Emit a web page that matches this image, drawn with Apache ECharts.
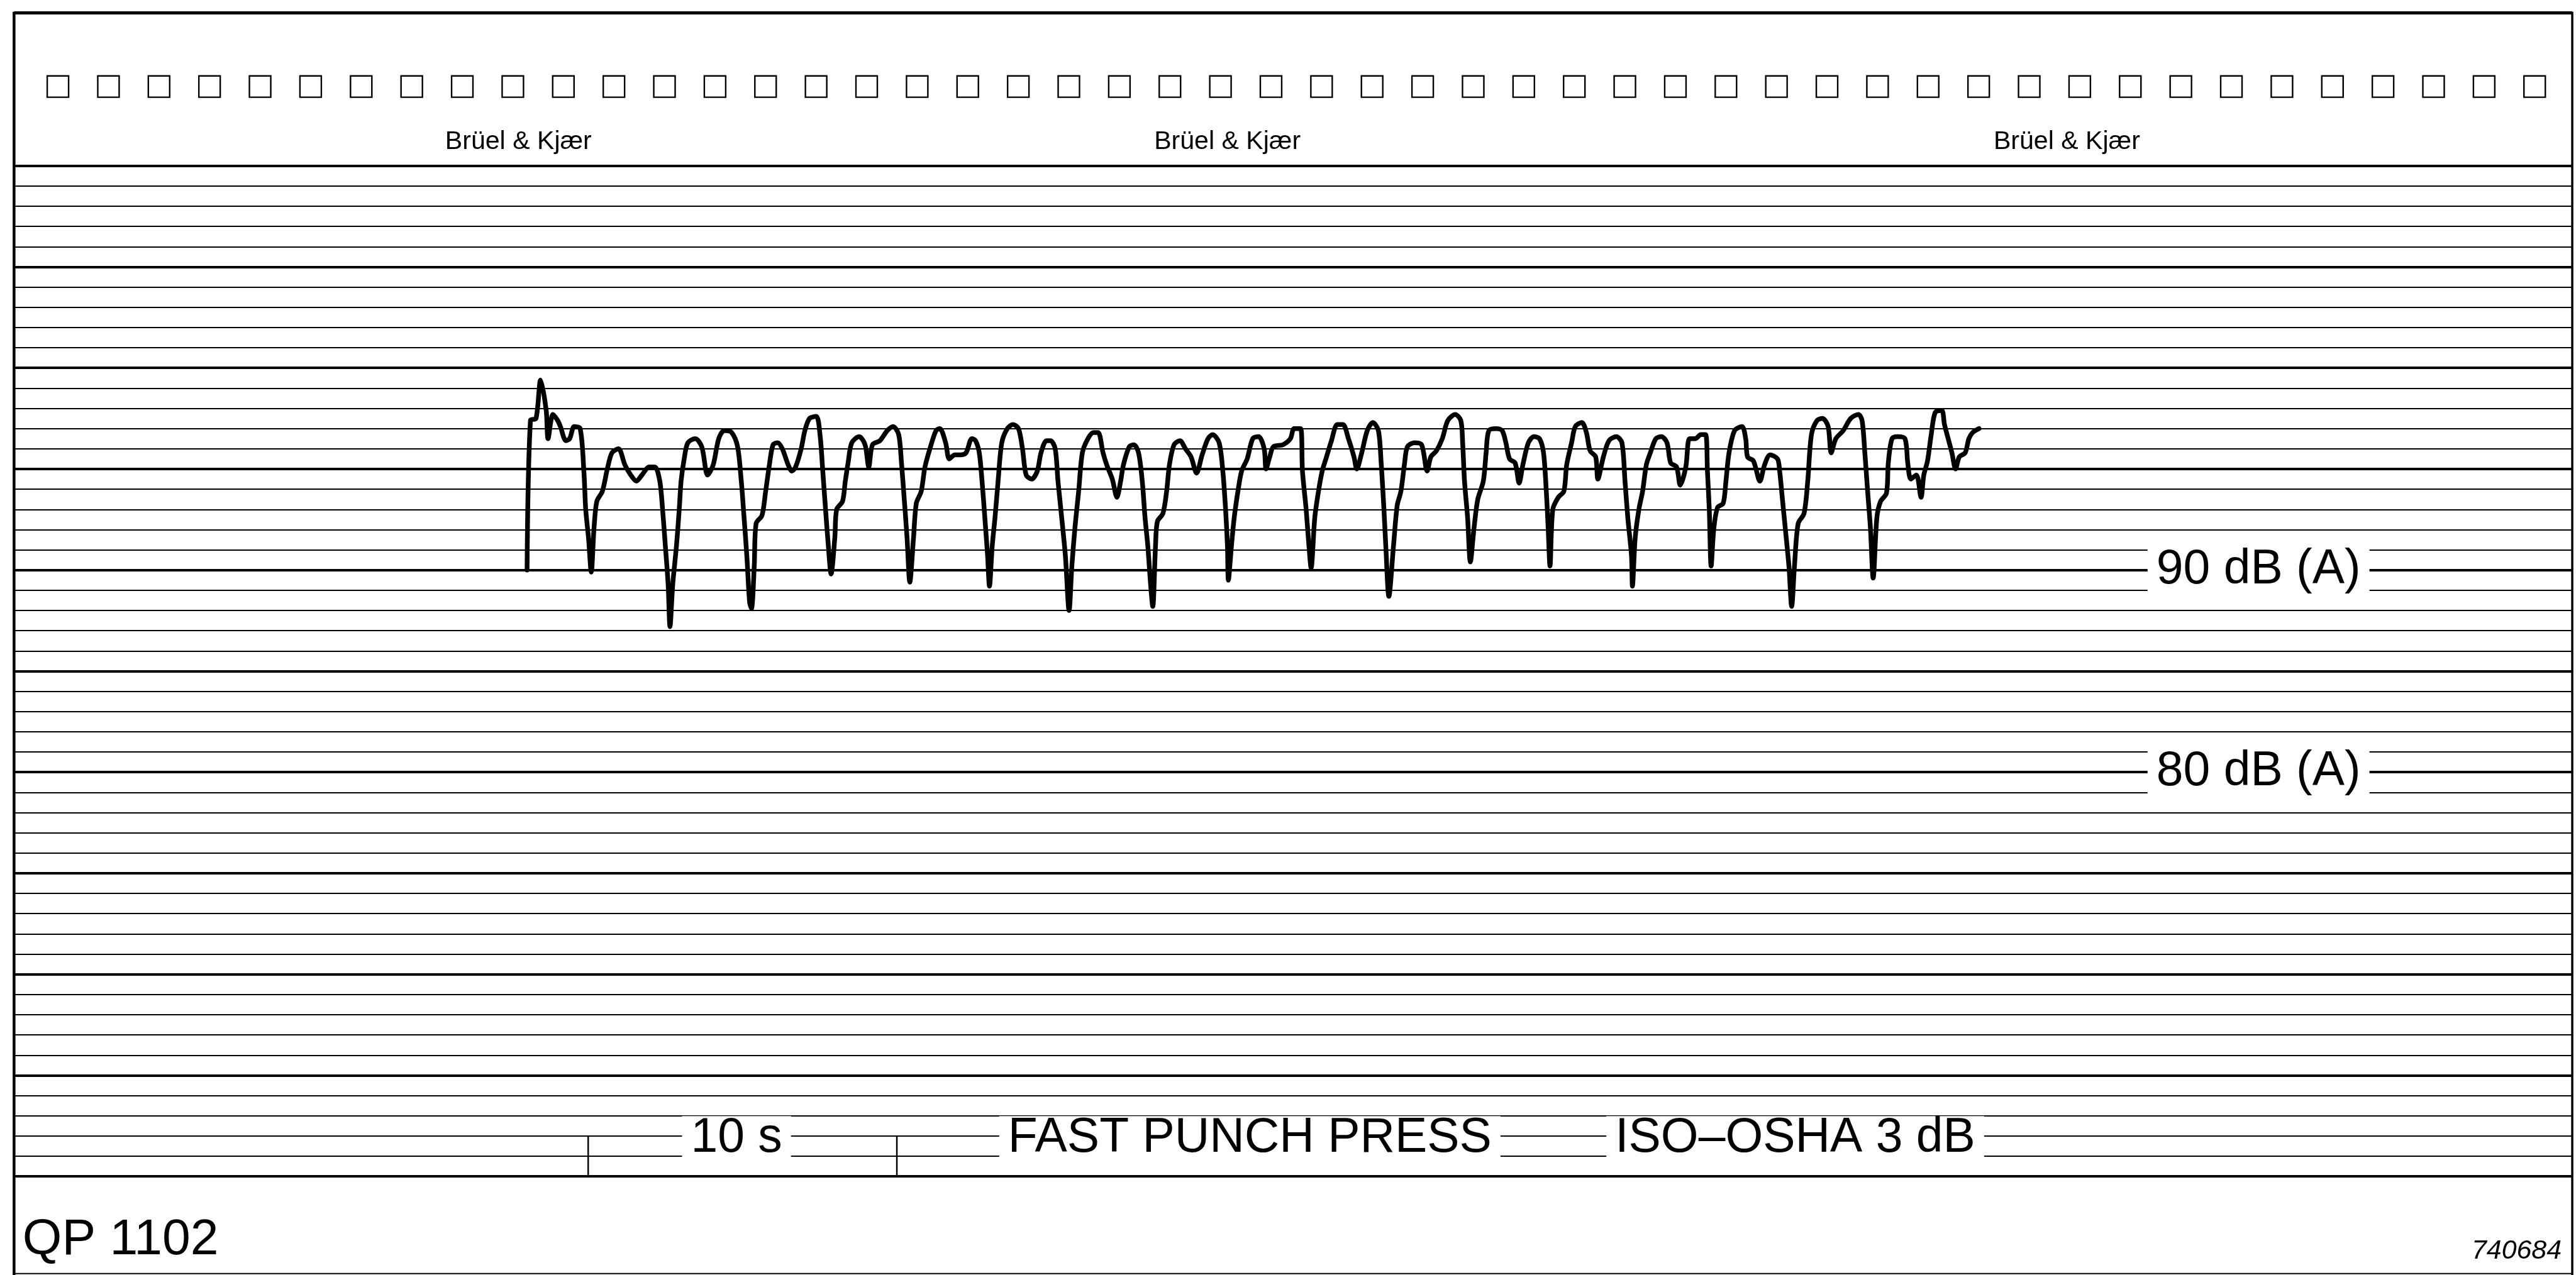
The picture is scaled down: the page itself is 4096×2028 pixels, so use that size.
<!DOCTYPE html>
<html>
<head>
<meta charset="utf-8">
<title>QP 1102 – Fast punch press</title>
<script src="https://cdn.jsdelivr.net/npm/echarts/dist/echarts.min.js"></script>
<style>
  html, body { margin: 0; padding: 0; background: #fff; }
  #chart { width: 4096px; height: 2028px; }
</style>
</head>
<body>
<div id="chart"></div>
<script>
// Level recorder strip: A-weighted sound level of a fast punch press.
// Time in seconds from the left edge of the paper, level in dB(A).
const traceSec = [
  16.62, 16.73, 16.91, 17.06, 17.24, 17.30, 17.46, 17.61, 17.70, 17.88, 18.00, 18.15, 18.34,
  18.46, 18.52, 18.61, 18.70, 18.79, 18.88, 19.06, 19.22, 19.37, 19.58, 19.79, 19.98, 20.16,
  20.34, 20.58, 20.76, 20.92, 21.01, 21.10, 21.19, 21.25, 21.34, 21.46, 21.55, 21.61, 21.71,
  21.83, 22.07, 22.28, 22.47, 22.65, 22.83, 23.01, 23.25, 23.44, 23.56, 23.65, 23.74, 23.83,
  23.89, 23.98, 24.04, 24.23, 24.35, 24.47, 24.59, 24.74, 24.89, 25.08, 25.20, 25.32, 25.50,
  25.62, 25.77, 25.99, 26.11, 26.20, 26.29, 26.38, 26.47, 26.59, 26.65, 26.84, 26.93, 27.02,
  27.14, 27.38, 27.57, 27.69, 27.81, 28.05, 28.29, 28.48, 28.66, 28.75, 28.84, 28.93, 29.02,
  29.14, 29.23, 29.39, 29.51, 29.69, 29.87, 29.99, 30.18, 30.30, 30.48, 30.66, 30.84, 31.03,
  31.15, 31.27, 31.36, 31.45, 31.54, 31.60, 31.69, 31.78, 31.88, 32.00, 32.18, 32.36, 32.54,
  32.67, 32.79, 32.97, 33.15, 33.27, 33.45, 33.58, 33.73, 33.82, 33.94, 34.06, 34.18, 34.27,
  34.37, 34.49, 34.61, 34.79, 34.97, 35.12, 35.28, 35.40, 35.58, 35.73, 35.85, 35.94, 36.13,
  36.28, 36.43, 36.55, 36.64, 36.73, 36.82, 36.89, 36.98, 37.04, 37.22, 37.34, 37.43, 37.58,
  37.77, 37.95, 38.13, 38.31, 38.49, 38.68, 38.83, 39.04, 39.16, 39.25, 39.31, 39.34, 39.44,
  39.53, 39.65, 39.77, 39.95, 40.13, 40.32, 40.50, 40.56, 40.68, 40.80, 41.11, 41.35, 41.47,
  41.68, 41.74, 41.86, 41.95, 42.02, 42.14, 42.26, 42.38, 42.50, 42.68, 42.87, 43.05, 43.23,
  43.41, 43.50, 43.66, 43.84, 44.02, 44.20, 44.29, 44.38, 44.44, 44.54, 44.69, 44.81, 44.93,
  45.05, 45.14, 45.36, 45.60, 45.78, 45.90, 46.08, 46.27, 46.45, 46.69, 46.87, 46.93, 46.99,
  47.09, 47.18, 47.30, 47.42, 47.60, 47.69, 47.78, 48.03, 48.21, 48.33, 48.45, 48.63, 48.76,
  48.88, 49.06, 49.24, 49.42, 49.55, 49.64, 49.70, 49.76, 49.85, 50.03, 50.21, 50.30, 50.46,
  50.58, 50.79, 50.94, 51.06, 51.24, 51.31, 51.49, 51.67, 51.91, 52.09, 52.19, 52.28, 52.40,
  52.43, 52.52, 52.64, 52.76, 52.88, 53.01, 53.19, 53.37, 53.55, 53.67, 53.86, 53.98, 54.16,
  54.28, 54.46, 54.65, 54.80, 54.86, 54.92, 54.98, 55.07, 55.19, 55.37, 55.46, 55.56, 55.74,
  55.98, 56.10, 56.16, 56.35, 56.56, 56.71, 56.89, 57.13, 57.20, 57.29, 57.38, 57.50, 57.59,
  57.68, 57.80, 57.99, 58.11, 58.23, 58.41, 58.59, 58.77, 58.87, 59.02, 59.26, 59.50, 59.75,
  59.87, 59.96, 60.05, 60.14, 60.23, 60.35, 60.47, 60.66, 60.72, 60.84, 61.02, 61.26, 61.35,
  61.45, 61.63, 61.78, 61.87, 61.99, 62.11, 62.24, 62.45, 62.54, 62.66, 62.78, 62.90, 63.02,
  63.21, 63.33, 63.45, 63.66
];
const traceDb = [
  90.0, 97.4, 97.5, 99.4, 97.9, 96.5, 97.7, 97.4, 97.1, 96.4, 96.5, 97.1, 97.0,
  94.9, 93.0, 91.6, 89.9, 92.1, 93.4, 93.9, 95.0, 95.8, 96.0, 95.2, 94.7, 94.4,
  94.7, 95.1, 95.1, 94.4, 93.0, 91.2, 89.3, 87.2, 89.3, 91.2, 93.0, 94.4, 95.5,
  96.3, 96.5, 96.1, 94.7, 95.2, 96.5, 96.9, 96.8, 96.1, 94.4, 92.6, 90.7, 88.4,
  88.1, 90.2, 92.3, 92.7, 93.9, 95.2, 96.2, 96.3, 96.0, 95.2, 94.9, 95.1, 96.0,
  96.9, 97.5, 97.6, 96.7, 94.9, 93.0, 91.2, 89.8, 91.6, 93.0, 93.4, 94.4, 95.3,
  96.3, 96.6, 96.2, 95.1, 96.2, 96.4, 96.9, 97.1, 96.7, 95.3, 93.5, 91.6, 89.4,
  91.6, 93.3, 93.9, 95.1, 96.1, 96.9, 97.0, 96.3, 95.5, 95.7, 95.7, 95.8, 96.5,
  96.4, 95.8, 94.4, 92.6, 90.7, 89.2, 91.2, 92.6, 94.4, 96.3, 97.0, 97.2, 97.0,
  96.0, 94.7, 94.5, 94.9, 95.8, 96.4, 96.4, 96.0, 94.4, 92.6, 90.7, 88.0, 90.2,
  92.1, 93.9, 95.8, 96.5, 96.8, 96.8, 95.8, 95.2, 94.5, 93.6, 94.4, 95.2, 96.1,
  96.2, 95.8, 94.4, 92.6, 91.2, 89.3, 88.2, 91.2, 92.4, 92.8, 93.9, 95.2, 96.2,
  96.4, 96.0, 95.6, 94.8, 95.7, 96.5, 96.7, 96.3, 94.9, 93.0, 91.2, 89.5, 91.2,
  92.6, 93.9, 94.9, 95.5, 96.5, 96.6, 96.0, 95.0, 95.6, 96.1, 96.2, 96.5, 97.0,
  97.0, 94.9, 93.0, 91.2, 90.1, 92.6, 93.9, 94.9, 95.5, 96.4, 97.2, 97.2, 96.5,
  95.6, 95.0, 95.8, 96.9, 97.3, 96.9, 95.3, 93.0, 91.2, 88.7, 91.2, 93.2, 93.9,
  95.3, 96.1, 96.3, 96.2, 94.9, 95.6, 95.9, 96.5, 97.4, 97.7, 97.4, 96.3, 94.4,
  92.6, 90.4, 92.1, 93.5, 94.4, 95.8, 96.9, 97.0, 96.9, 96.3, 95.5, 95.3, 94.3,
  95.2, 96.3, 96.6, 96.5, 95.8, 93.9, 92.1, 90.2, 93.0, 93.6, 93.9, 95.2, 96.3,
  97.1, 97.3, 96.8, 95.9, 95.6, 94.5, 95.6, 96.4, 96.6, 96.3, 94.4, 92.6, 90.7,
  89.2, 91.6, 93.0, 93.9, 95.2, 95.8, 96.5, 96.6, 96.3, 95.3, 95.1, 94.2, 95.1,
  96.5, 96.5, 96.7, 96.7, 94.9, 93.0, 90.2, 92.1, 93.1, 93.3, 94.4, 95.8, 96.9,
  97.1, 96.5, 95.6, 95.4, 94.4, 95.2, 95.7, 95.5, 94.9, 93.5, 92.1, 90.2, 88.2,
  90.2, 92.3, 92.8, 94.4, 96.7, 97.4, 97.5, 97.1, 95.8, 96.5, 96.9, 97.5, 97.7,
  97.4, 95.8, 93.9, 92.1, 89.6, 92.6, 93.4, 93.8, 95.3, 96.5, 96.6, 96.5, 95.3,
  94.5, 94.7, 93.6, 94.7, 95.4, 96.7, 97.8, 97.9, 97.2, 96.5, 95.8, 95.0, 95.6,
  95.8, 96.5, 96.8, 97.0
];

// 10 s time-scale bracket drawn at the foot of the strip
const bracketSec = [18.6, 18.6, 28.6, 28.6];
const bracketDb = [62, 60, 60, 62];

// Level scale of the paper
const levelMin = 60;
const levelMax = 110;
const levelLabels = [
  { db: 90, text: '90 dB (A)' },
  { db: 80, text: '80 dB (A)' }
];
const footNotes = ['10 s', 'FAST PUNCH PRESS', 'ISO–OSHA 3 dB'];
const makerName = 'Brüel & Kjær';

// ---------------------------------------------------------------------------
const S = 0.894;                 // drawing scale
const W = 4096, H = 2028;
const f = v => v * S;
const FONT = '"Liberation Sans", Arial, Helvetica, sans-serif';

const paperLeft = f(25), paperRight = f(4575);
const plotTop = f(295), plotBottom = f(2093);
const pxPerDb = (plotBottom - plotTop) / (levelMax - levelMin);
const yOf = db => plotTop + (levelMax - db) * pxPerDb;
const paperSpanSec = (4575 - 25) / 54.9;   // paper speed: 54.9 units per second

const trace = traceSec.map((t, i) => [t, traceDb[i]]);
const bracket = bracketSec.map((t, i) => [t, bracketDb[i]]);

const graphics = [];

// paper frame
graphics.push(
  { type: 'line', z: 50, shape: { x1: paperLeft, y1: f(23), x2: paperRight, y2: f(23) }, style: { stroke: '#000', lineWidth: 5 } },
  { type: 'line', z: 50, shape: { x1: paperLeft, y1: f(21), x2: paperLeft, y2: H }, style: { stroke: '#000', lineWidth: 4.5 } },
  { type: 'line', z: 50, shape: { x1: paperRight, y1: f(21), x2: paperRight, y2: H }, style: { stroke: '#000', lineWidth: 3.5 } },
  { type: 'line', z: 50, shape: { x1: paperLeft, y1: f(2266), x2: paperRight, y2: f(2266) }, style: { stroke: '#000', lineWidth: 2 } }
);

// sprocket holes along the top edge
for (let i = 0; i < 50; i++) {
  graphics.push({
    type: 'rect', z: 50,
    shape: { x: f(84 + i * 89.9), y: f(135), width: f(38), height: f(38) },
    style: { fill: 'none', stroke: '#000', lineWidth: 2.4 }
  });
}

// maker name printed three times on the header
[922, 2183, 3676].forEach(cx => {
  graphics.push({
    type: 'text', z: 50, x: f(cx), y: f(252),
    style: { text: makerName, fill: '#000', font: `${f(46).toFixed(1)}px ${FONT}`, align: 'center', verticalAlign: 'middle' }
  });
});

// level captions, written over the 90 and 80 dB lines
levelLabels.forEach(l => {
  graphics.push({
    type: 'text', z: 60, x: f(4017), y: yOf(l.db),
    style: {
      text: l.text, fill: '#000', font: `${f(86).toFixed(1)}px ${FONT}`,
      align: 'center', verticalAlign: 'middle',
      backgroundColor: '#fff', padding: [0, 14], lineHeight: 74
    }
  });
});

// captions at the foot of the strip
const footY = f(2025);
[1310, 2223, 3193].forEach((cx, i) => {
  graphics.push({
    type: 'text', z: 60, x: f(cx), y: footY,
    style: {
      text: footNotes[i], fill: '#000', font: `${f(86).toFixed(1)}px ${FONT}`,
      align: 'center', verticalAlign: 'middle',
      backgroundColor: '#fff', padding: [0, 14], lineHeight: 70
    }
  });
});

// chart identification
graphics.push(
  { type: 'text', z: 60, x: f(40), y: f(2252),
    style: { text: 'QP 1102', fill: '#000', font: `${f(90).toFixed(1)}px ${FONT}`, align: 'left', verticalAlign: 'bottom' } },
  { type: 'text', z: 60, x: f(4556), y: f(2250),
    style: { text: '740684', fill: '#000', font: `italic ${f(48).toFixed(1)}px ${FONT}`, align: 'right', verticalAlign: 'bottom' } }
);

const chart = echarts.init(document.getElementById('chart'), null, { renderer: 'canvas', width: W, height: H });

chart.setOption({
  animation: false,
  backgroundColor: '#fff',
  grid: {
    left: paperLeft,
    right: W - paperRight,
    top: plotTop,
    bottom: H - plotBottom,
    containLabel: false
  },
  xAxis: {
    type: 'value', min: 0, max: paperSpanSec,
    axisLine: { show: false }, axisTick: { show: false }, axisLabel: { show: false },
    splitLine: { show: false }
  },
  yAxis: [
    {
      type: 'value', min: levelMin, max: levelMax, interval: 1,
      axisLine: { show: false }, axisTick: { show: false }, axisLabel: { show: false },
      splitLine: { show: true, lineStyle: { color: '#000', width: 1.8 } }
    },
    {
      type: 'value', min: levelMin, max: levelMax, interval: 5, position: 'left',
      axisLine: { show: false }, axisTick: { show: false }, axisLabel: { show: false },
      splitLine: { show: true, lineStyle: { color: '#000', width: 4 } }
    }
  ],
  series: [
    {
      name: 'Sound level',
      type: 'line',
      data: trace,
      showSymbol: false,
      symbol: 'none',
      smooth: 0.3,
      lineStyle: { color: '#000', width: 7.5, join: 'round', cap: 'round' },
      z: 10
    },
    {
      name: '10 s',
      type: 'line',
      data: bracket,
      showSymbol: false,
      symbol: 'none',
      lineStyle: { color: '#000', width: 2.5 },
      z: 9
    }
  ],
  graphic: graphics
});
</script>
</body>
</html>
